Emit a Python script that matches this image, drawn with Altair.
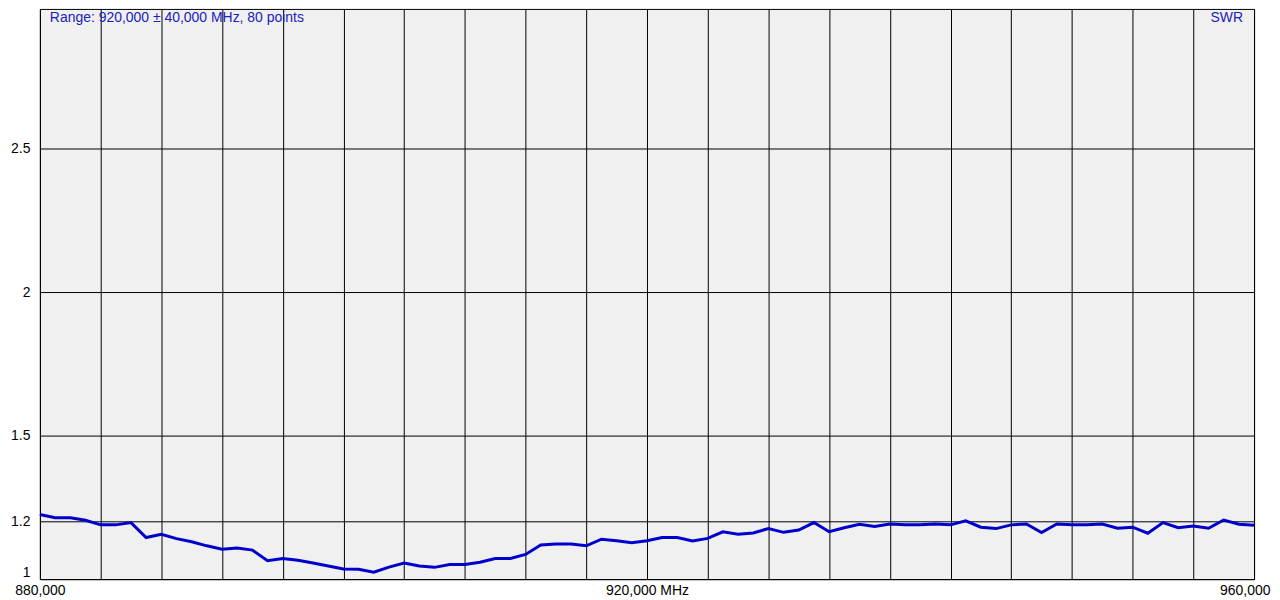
import altair as alt
import pandas as pd

freq_mhz = list(range(880000, 960001, 1000))
swr = [
    1.225, 1.214, 1.214, 1.205, 1.189, 1.189, 1.197, 1.145, 1.156, 1.141,
    1.130, 1.116, 1.104, 1.108, 1.101, 1.064, 1.072, 1.066, 1.056, 1.046,
    1.035, 1.034, 1.024, 1.042, 1.056, 1.046, 1.041, 1.051, 1.051, 1.059,
    1.072, 1.072, 1.086, 1.119, 1.122, 1.122, 1.116, 1.139, 1.134, 1.127,
    1.134, 1.145, 1.145, 1.133, 1.142, 1.165, 1.156, 1.161, 1.176, 1.163,
    1.171, 1.197, 1.165, 1.179, 1.191, 1.183, 1.192, 1.189, 1.189, 1.192,
    1.189, 1.203, 1.181, 1.176, 1.189, 1.192, 1.162, 1.192, 1.189, 1.189,
    1.192, 1.177, 1.181, 1.160, 1.197, 1.179, 1.185, 1.177, 1.206, 1.191,
    1.188,
]
x_grid = list(range(880000, 960001, 4000))
y_ticks = [1, 1.2, 1.5, 2, 2.5]
title_text = "Range: 920,000 \u00b1 40,000 MHz, 80 points"
series_name = "SWR"

df = pd.DataFrame({"freq": freq_mhz, "swr": swr})

FONT = "Liberation Sans"
TXT_BLUE = "#2020c0"

x_axis = alt.Axis(
    values=x_grid,
    grid=True,
    gridColor="black",
    gridWidth=1,
    gridOpacity=1,
    ticks=False,
    tickSize=0,
    domain=False,
    labelExpr=("datum.value == 880000 ? '880,000' : datum.value == 920000 ? "
               "'920,000 MHz' : datum.value == 960000 ? '960,000' : ''"),
    labelOverlap=False,
    labelBound=False,
    labelPadding=4,
    labelFont=FONT,
    labelFontSize=14,
    labelColor="black",
    labelAlign={"condition": {"test": "datum.value == 960000", "value": "right"}, "value": "center"},
    labelOffset={"condition": {"test": "datum.value == 960000", "value": 16}, "value": 0},
    title=None,
)

y_axis = alt.Axis(
    values=y_ticks,
    grid=True,
    gridColor="black",
    gridWidth=1,
    gridOpacity=1,
    ticks=False,
    tickSize=0,
    domain=False,
    labelExpr="format(datum.value, '~g')",
    labelOverlap=False,
    labelFlush=True,
    labelPadding=10,
    labelFont=FONT,
    labelFontSize=14,
    labelColor="black",
    title=None,
)

line = alt.Chart(df).mark_line(color="#0000cc", strokeWidth=3).encode(
    x=alt.X("freq:Q", scale=alt.Scale(domain=[880000, 960000], nice=False, zero=False), axis=x_axis),
    y=alt.Y("swr:Q", scale=alt.Scale(domain=[1, 2.986], nice=False, zero=False), axis=y_axis),
)

label_df = pd.DataFrame({"t": [title_text]})
title_mark = alt.Chart(label_df).mark_text(
    align="left", baseline="alphabetic", font=FONT, fontSize=14, color=TXT_BLUE
).encode(x=alt.value(10), y=alt.value(13), text="t:N")

swr_df = pd.DataFrame({"t": [series_name]})
swr_mark = alt.Chart(swr_df).mark_text(
    align="right", baseline="alphabetic", font=FONT, fontSize=14, color=TXT_BLUE
).encode(x=alt.value(1207), y=alt.value(13), text="t:N")

chart = alt.layer(line, title_mark, swr_mark).properties(
    width=1218,
    height=572,
    autosize=alt.AutoSizeParams(type="none"),
    padding={"left": 32, "top": 0, "right": 18, "bottom": 20},
    background="white",
).configure_view(
    fill="#f0f0f0",
    stroke="black",
    strokeWidth=1,
)

chart.save("out.html", embed_options={"renderer": "svg", "actions": False})
